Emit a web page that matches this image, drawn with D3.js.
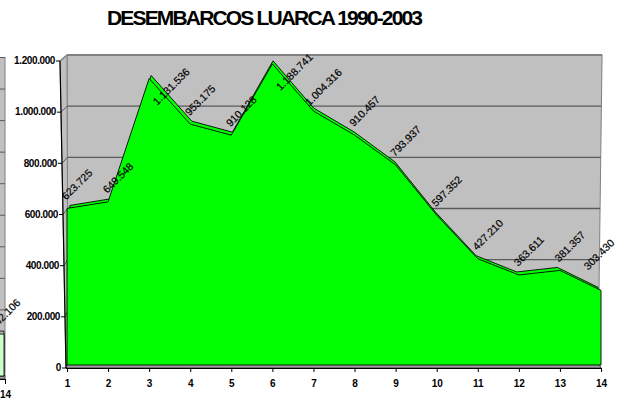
<!DOCTYPE html>
<meta charset="utf-8">
<html lang="es">

<head>
    <meta charset="utf-8">
    <style>
        body { margin: 0; background: #fff; }
        svg { display: block; font-family: "Liberation Sans", Arial, sans-serif; }
    </style>
</head>

<body>
    <div id="my_dataviz"></div>
    <script src="https://d3js.org/d3.v7.min.js"></script>
    <script>
        // Data
        var title = "DESEMBARCOS LUARCA 1990-2003";
        var years = [1, 2, 3, 4, 5, 6, 7, 8, 9, 10, 11, 12, 13, 14];
        var landings = [623725, 649548, 1131536, 953175, 910128, 1188741, 1004316, 910457, 793937, 597352, 427210, 363611, 381357, 303430];
        var yTicks = [0, 200000, 400000, 600000, 800000, 1000000, 1200000];

        // the neighbouring chart that is cut off at the left edge
        var prevYears = [13, 14];
        var prevLandings = [146000, 142106];
        var prevGrid = [100000, 200000, 300000, 400000, 500000, 600000, 700000, 800000, 900000, 1000000];

        var width = 627, height = 403;
        var svg = d3.select("#my_dataviz")
            .append("svg")
            .attr("width", width)
            .attr("height", height);

        // spanish number format 1.200.000
        var es = d3.formatLocale({ decimal: ",", thousands: ".", grouping: [3], currency: ["", " €"] });
        var fmt = es.format(",d");

        var wallFill = "#c0c0c0", wallLine = "#808080", gridLine = "#5a5a5a";
        var green = "#00ff00", paleGreen = "#ccffcc";

        // ---------- neighbouring chart (only its right edge is on the picture) ----------
        var xN = d3.scaleLinear().domain([13, 14]).range([-36, 5]);
        var yN = d3.scaleLinear().domain([0, 1000000]).range([379, 63.5]);
        var gN = svg.append("g");
        gN.append("rect")
            .attr("x", -2).attr("y", yN(1000000) - 6)
            .attr("width", xN(14) + 2).attr("height", yN(0) - yN(1000000))
            .style("fill", wallFill).style("stroke", wallLine);
        gN.selectAll("prevGrid")
            .data(prevGrid)
            .enter()
            .append("line")
            .attr("x1", -2).attr("x2", xN(14))
            .attr("y1", function (d) { return yN(d) - 6 })
            .attr("y2", function (d) { return yN(d) - 6 })
            .style("stroke", gridLine);
        gN.append("rect")
            .attr("x", -2).attr("y", yN(0) - 4)
            .attr("width", xN(14) + 2).attr("height", 4)
            .style("fill", "#a0a0a0").style("stroke", "#404040");
        var prevPts = prevYears.map(function (d, i) { return [xN(d) - 1, yN(prevLandings[i])] });
        var prevArea = d3.area()
            .x(function (d) { return d[0] })
            .y0(yN(0) - 3)
            .y1(function (d) { return d[1] });
        gN.append("path")
            .attr("d", prevArea(prevPts.map(function (p) { return [p[0], p[1] - 3] })))
            .style("fill", "#b0b0b0").style("stroke", "#000").style("stroke-width", 0.8);
        gN.append("path")
            .attr("d", prevArea(prevPts))
            .style("fill", paleGreen).style("stroke", "#000").style("stroke-width", 0.8);
        gN.append("g")
            .attr("transform", "translate(0," + yN(0) + ")")
            .call(d3.axisBottom(xN).tickValues([14]).tickSize(5).tickSizeOuter(0).tickFormat(d3.format("d")))
            .call(function (g) {
                g.select(".domain").style("stroke", "#000");
                g.selectAll("text").attr("y", 12).style("font-size", "10px").style("font-weight", "bold")
                    .style("font-family", "Liberation Sans, Arial, sans-serif").style("fill", "#000");
            });
        gN.append("text")
            .attr("transform", "translate(" + xN(14) + "," + (yN(prevLandings[1]) - 20) + ") rotate(-45)")
            .attr("text-anchor", "middle")
            .attr("dy", "0.35em")
            .style("font-size", "10.5px")
            .style("stroke", "#000").style("stroke-width", 0.2)
            .text(fmt(prevLandings[1]));

        // ---------- main chart ----------
        var x = d3.scaleLinear().domain([1, 14]).range([67, 601]);
        var y = d3.scaleLinear().domain([0, 1200000]).range([368, 61]);
        var depthY = -6;
        // the chart is drawn in perspective: front left edge leans, back wall edges too
        function axisX(py) { return 66 - (y(0) - py) * 6 / (y(0) - y(1200000)) }
        function wallL(py) { return 68 - (y(0) - py) * 1 / 307 }
        function wallR(py) { return 598 + (y(0) - py) * 4 / 307 }
        function seriesDx(px) { return (330 - px) * 0.011 }

        var topB = y(1200000) + depthY, botB = y(0) + depthY;
        var chart = svg.append("g");

        // back wall
        chart.append("path")
            .attr("d", d3.line()([[wallL(topB), topB], [wallR(topB), topB], [wallR(botB), botB], [wallL(botB), botB]]) + "Z")
            .style("fill", wallFill).style("stroke", wallLine);
        // side wall
        chart.append("path")
            .attr("d", d3.line()([[axisX(y(1200000)), y(1200000)], [wallL(topB), topB], [wallL(botB), botB], [axisX(y(0)), y(0)]]) + "Z")
            .style("fill", wallFill).style("stroke", wallLine);
        chart.append("line")
            .attr("x1", axisX(y(1200000))).attr("y1", y(1200000))
            .attr("x2", wallL(topB)).attr("y2", topB)
            .style("stroke", wallLine).style("stroke-width", 1.5);
        chart.append("line")
            .attr("x1", wallL(topB)).attr("y1", topB)
            .attr("x2", wallR(topB)).attr("y2", topB)
            .style("stroke", wallLine).style("stroke-width", 2);

        // gridlines on the back wall and the side wall
        var grid = chart.selectAll("myGrid")
            .data(yTicks.filter(function (d) { return d > 0 && d < 1200000 }))
            .enter()
            .append("g");
        grid.append("line")
            .attr("x1", function (d) { return wallL(y(d) + depthY) })
            .attr("x2", function (d) { return wallR(y(d) + depthY) })
            .attr("y1", function (d) { return y(d) + depthY })
            .attr("y2", function (d) { return y(d) + depthY })
            .style("stroke", gridLine).style("stroke-width", 1.3);
        grid.append("line")
            .attr("x1", function (d) { return axisX(y(d)) })
            .attr("y1", function (d) { return y(d) })
            .attr("x2", function (d) { return wallL(y(d) + depthY) })
            .attr("y2", function (d) { return y(d) + depthY })
            .style("stroke", gridLine);

        // floor
        chart.append("path")
            .attr("d", d3.line()([[axisX(y(0)), y(0)], [wallL(botB), botB], [wallR(botB), botB], [x(14), y(0)]]) + "Z")
            .style("fill", "#a0a0a0").style("stroke", "#404040");

        // the area: back face first, then the front face
        var pts = years.map(function (d, i) { return [x(d), y(landings[i])] });
        var area = d3.area()
            .x(function (d) { return d[0] })
            .y0(function (d) { return d[2] })
            .y1(function (d) { return d[1] });
        chart.append("path")
            .attr("d", area(pts.map(function (p) { return [p[0] + seriesDx(p[0]), p[1] - 3, y(0) - 6] })))
            .style("fill", green).style("stroke", "#000").style("stroke-width", 0.9);
        chart.append("path")
            .attr("d", area(pts.map(function (p) { return [p[0], p[1], y(0) - 3] })))
            .style("fill", green).style("stroke", "#000").style("stroke-width", 0.9);

        // x axis
        chart.append("g")
            .attr("transform", "translate(0," + y(0) + ")")
            .call(d3.axisBottom(x).tickValues(years).tickSize(4).tickSizeOuter(0).tickFormat(d3.format("d")))
            .call(function (g) {
                g.select(".domain").attr("d", "M" + axisX(y(0)) + ",0.5H" + x(14)).style("stroke", "#000").style("stroke-width", 1.2);
                g.selectAll("line").style("stroke", "#000");
                g.selectAll("text").attr("y", 12).style("font-size", "10px").style("font-weight", "bold")
                    .style("font-family", "Liberation Sans, Arial, sans-serif").style("fill", "#000");
            });

        // y axis, leaning with the perspective
        chart.append("g")
            .call(d3.axisLeft(y).tickValues(yTicks).tickSize(4).tickFormat(fmt))
            .call(function (g) {
                g.select(".domain").remove();
                g.selectAll(".tick").attr("transform", function (d) { return "translate(" + axisX(y(d)) + "," + y(d) + ")" });
                g.selectAll("line").style("stroke", "#000");
                g.selectAll("text").attr("x", -5).style("font-size", "10px").style("font-weight", "bold")
                    .style("letter-spacing", "-0.4px")
                    .style("font-family", "Liberation Sans, Arial, sans-serif").style("fill", "#000");
            });
        chart.append("line")
            .attr("x1", axisX(y(1200000))).attr("y1", y(1200000))
            .attr("x2", axisX(y(0))).attr("y2", y(0))
            .style("stroke", "#000").style("stroke-width", 1.2);

        // data labels, turned 45 degrees, kept inside the picture;
        // on the two sharp peaks the label sits below and to the right
        chart.selectAll("myLabels")
            .data(years)
            .enter()
            .append("text")
            .attr("transform", function (d, i) {
                var v = landings[i];
                var peak = i > 0 && i < landings.length - 1 &&
                    v - Math.max(landings[i - 1], landings[i + 1]) > 100000;
                var ox = peak ? 22 : 10, oy = peak ? 8 : -24;
                var cx = Math.min(x(d) + ox, width - 28);
                var cy = y(v) + oy - (x(d) + ox - cx);
                return "translate(" + cx + "," + cy + ") rotate(-45)";
            })
            .attr("text-anchor", "middle")
            .attr("dy", "0.35em")
            .style("font-size", "10.5px")
            .style("fill", "#000")
            .style("stroke", "#000").style("stroke-width", 0.2)
            .text(function (d, i) { return fmt(landings[i]) });

        // title
        svg.append("text")
            .attr("x", 107)
            .attr("y", 25)
            .attr("textLength", 316)
            .attr("lengthAdjust", "spacing")
            .style("font-size", "21px")
            .style("font-weight", "bold")
            .style("fill", "#000")
            .text(title);
    </script>
</body>

</html>
